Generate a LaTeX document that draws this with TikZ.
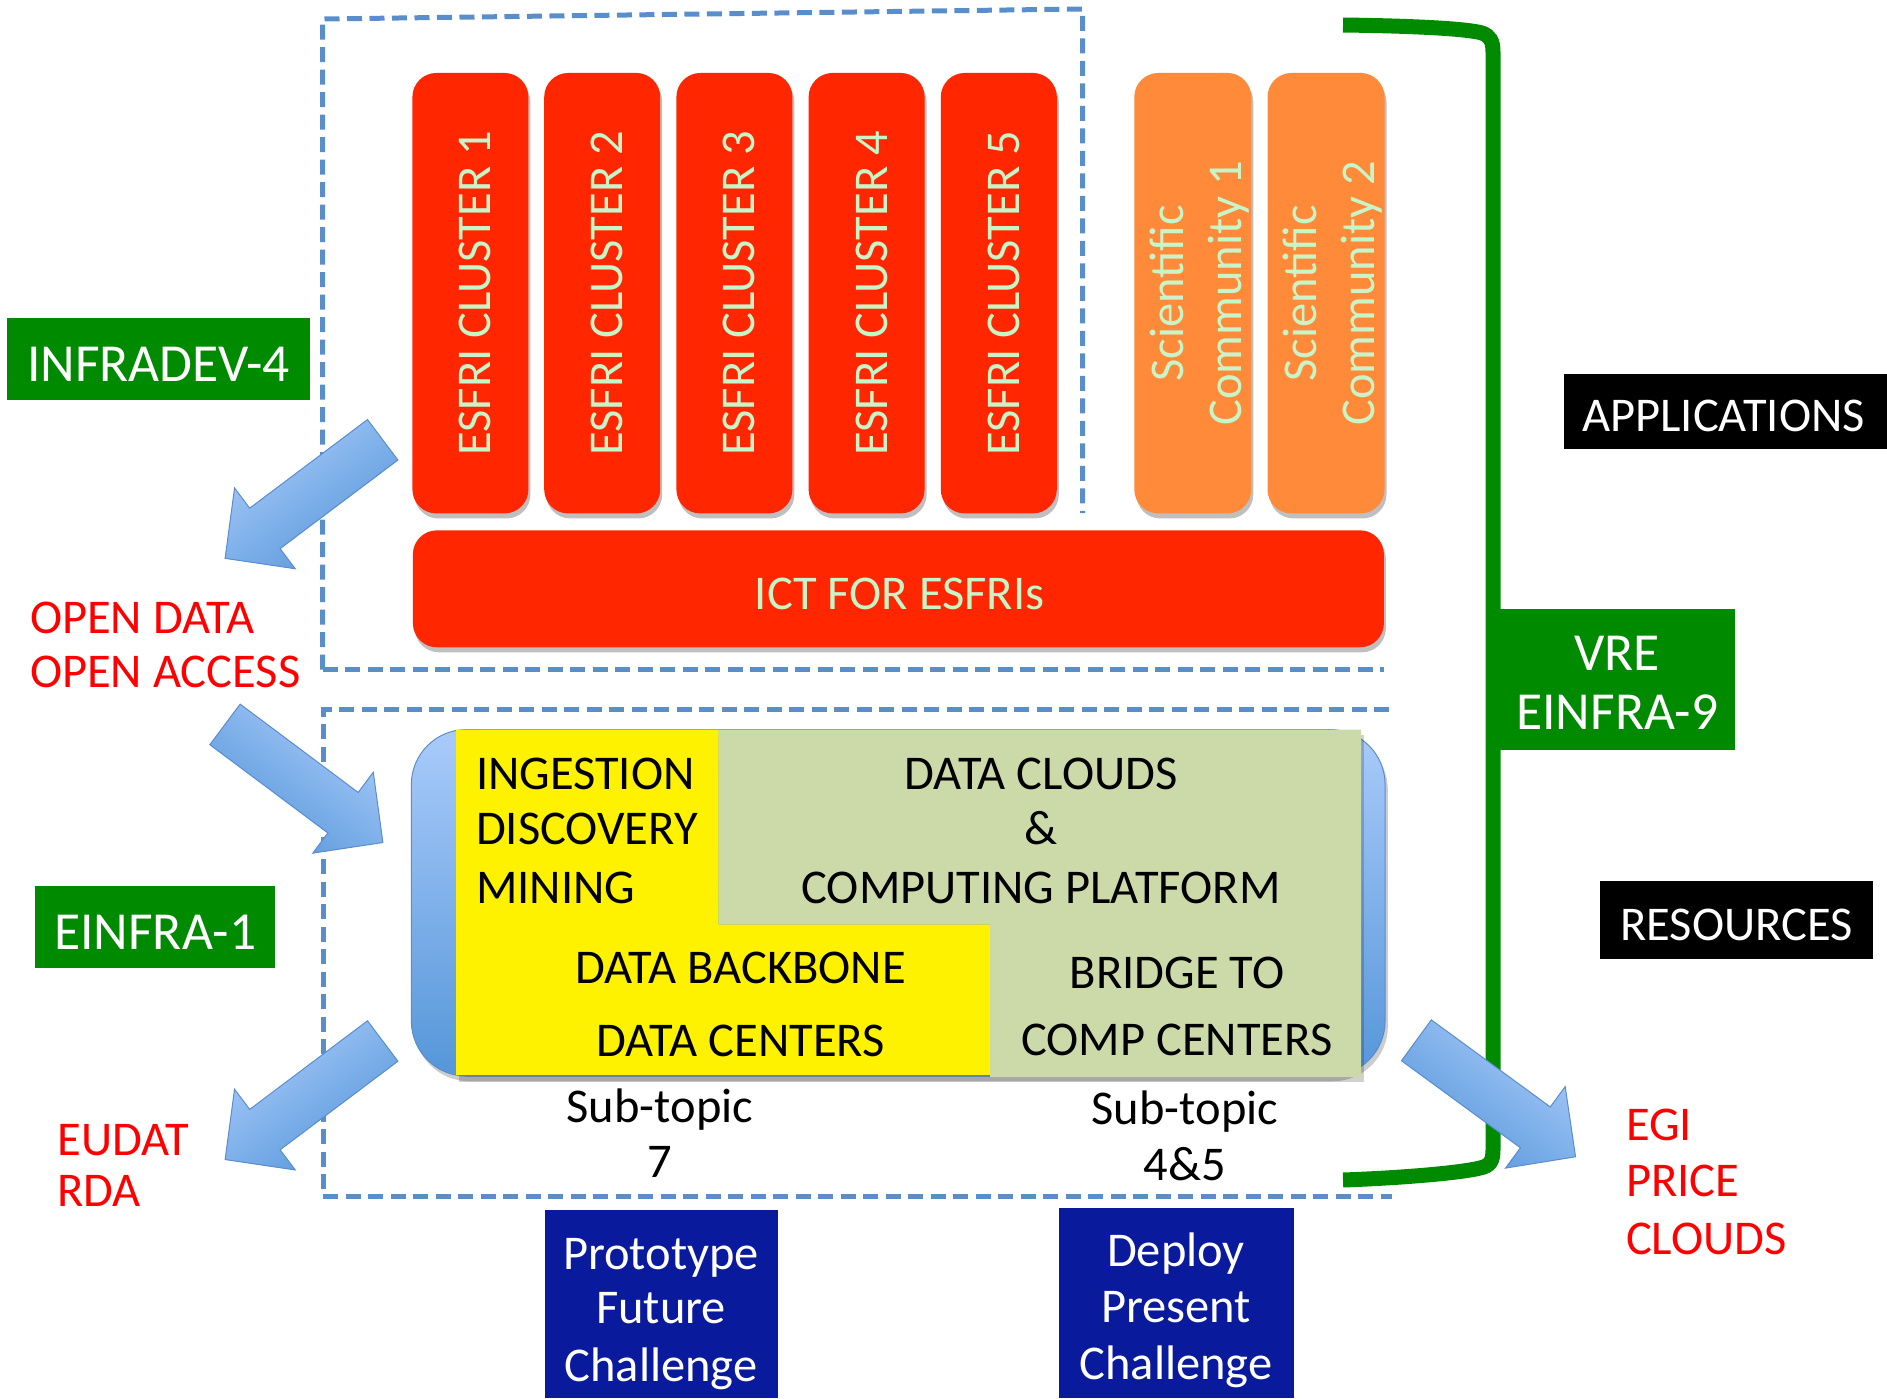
\documentclass[tikz,border=0pt]{standalone}
\usepackage{fontspec}
\setmainfont{Carlito}
\usetikzlibrary{shadows}
\definecolor{esred}{HTML}{FF2600}
\definecolor{mint}{HTML}{C8F5C8}
\definecolor{esorange}{HTML}{FF8A3A}
\definecolor{grn}{HTML}{008A00}
\definecolor{olivebg}{HTML}{CCDAAA}
\definecolor{navy}{HTML}{0A1A9C}
\definecolor{dashblue}{HTML}{5A8ECB}
\definecolor{bluetop}{HTML}{A9CBFA}
\definecolor{bluebot}{HTML}{5596D9}
\definecolor{arrowedge}{HTML}{5A8CCF}
\definecolor{txtred}{HTML}{FF0000}
\newcommand\blockarr[4]{%
  \begin{scope}[shift={(#1,#2)}, rotate=#3]
    \path[barrow, shading angle=#4] (0,-25.3) -- (147.4,-25.3) -- (147.4,-50.5) -- (197.2,0)
      -- (147.4,50.5) -- (147.4,25.3) -- (0,25.3) -- cycle;
  \end{scope}}
\begin{document}
\begin{tikzpicture}[x=1pt,y=-1pt,
  every node/.style={inner sep=0pt, outer sep=0pt},
  big/.style={font=\fontsize{48.5}{58}\selectfont},
  lbl/.style={font=\fontsize{53.5}{59}\selectfont, text=white},
  shad/.style={drop shadow={shadow xshift=2pt, shadow yshift=-5pt, opacity=0.25, fill=black}},
  cluster/.style={fill=esred, rounded corners=24pt, minimum width=116pt, minimum height=440.5pt, shad},
  comm/.style={fill=esorange, rounded corners=24pt, minimum width=117pt, minimum height=440.5pt, shad},
  vtext/.style={big, rotate=90, text=mint, align=center},
  ictbox/.style={fill=esred, rounded corners=24pt, minimum width=971pt, minimum height=117pt, shad},
  gbox/.style={fill=grn},
  gtext/.style={lbl, yshift=-5pt, align=center},
  kbox/.style={fill=black},
  ktext/.style={big, text=white, yshift=-5pt},
  nbox/.style={fill=navy},
  navytxt/.style={big, text=white, anchor=base},
  blacktxt/.style={big, text=black, anchor=base},
  redtxt/.style={big, text=txtred, anchor=base west},
  dashln/.style={draw=dashblue, line width=5pt, dash pattern=on 15pt off 7.5pt},
  barrow/.style={top color=bluetop, bottom color=bluebot, draw=arrowedge, line width=1pt},
  bracket/.style={draw=grn, line width=15pt},
]
\useasboundingbox (0,0) rectangle (1887,1398);

% dashed frames
\draw[dashln] (322.6,669.6) -- (322.6,19) -- (1082.5,9) -- (1082.5,513);
\draw[dashln] (322.6,669.6) -- (1384,669.6);
\draw[dashln] (1389,709.8) -- (323.3,709.8) -- (323.3,1196.6) -- (1392,1196.6);

% ESFRI clusters
\foreach \i/\x/\tx in {1/470.4/475.4,2/602.2/607.2,3/734.4/739.4,4/866.6/871.6,5/998.8/1003.8}{
  \node[cluster] (c\i) at (\x,293.2) {};
  \node[vtext] (ct\i) at (\tx,293.2) {ESFRI CLUSTER \i};
}
\node[comm] (s1) at (1192.8,293.2) {};
\node[vtext] (st1) at (1199.8,293.2) {Scientific\\Community 1};
\node[comm] (s2) at (1326,293.2) {};
\node[vtext] (st2) at (1333,293.2) {Scientific\\Community 2};
\node[ictbox] (ict) at (898.4,588.8) {};
\node[big, text=mint, anchor=base] (ictt) at (899.7,609) {ICT FOR ESFRIs};

% platform
\node[fill=black, opacity=0.2, rounded corners=55pt, minimum width=973.7pt, minimum height=346.5pt] (platshadow) at (901,908) {};
\node[top color=bluetop, bottom color=bluebot, draw=arrowedge, line width=1pt, rounded corners=55pt,
      minimum width=973.7pt, minimum height=346.5pt] (plat) at (898.2,902.8) {};
\fill[black, opacity=0.18] (459,735) -- (1364,735) -- (1364,1082) -- (459,1082) -- cycle;
\fill[yellow] (456,729.5) -- (718.7,729.5) -- (718.7,924.3) -- (990,924.3) -- (990,1075) -- (456,1075) -- cycle;
\fill[olivebg] (718.7,729.5) -- (1361,729.5) -- (1361,1077) -- (990,1077) -- (990,924.3) -- (718.7,924.3) -- cycle;

\node[blacktxt, anchor=base west] (ing) at (476,789) {INGESTION};
\node[blacktxt, anchor=base west] (disc) at (476,844) {DISCOVERY};
\node[blacktxt, anchor=base west] (mine) at (476,903.4) {MINING};
\node[blacktxt] (dcl) at (1041,789) {DATA CLOUDS};
\node[blacktxt] (amp) at (1041,844) {\&};
\node[blacktxt] (cpf) at (1041,903.4) {COMPUTING PLATFORM};
\node[blacktxt] (dbb) at (740.5,983) {DATA BACKBONE};
\node[blacktxt] (dce) at (740.5,1056.4) {DATA CENTERS};
\node[blacktxt] (bri) at (1177,988) {BRIDGE TO};
\node[blacktxt] (cce) at (1177,1055.5) {COMP CENTERS};
\node[blacktxt] (st7) at (660,1122) {Sub-topic};
\node[blacktxt] (n7) at (660,1177) {7};
\node[blacktxt] (st45) at (1185,1124) {Sub-topic};
\node[blacktxt] (n45) at (1185,1180) {4\&5};

% bottom boxes
\node[nbox, minimum width=233pt, minimum height=188pt] (protobox) at (661.5,1304) {};
\node[nbox, minimum width=234.2pt, minimum height=190pt] (deploybox) at (1176.5,1303) {};
\node[navytxt] (pr) at (661,1269) {Prototype};
\node[navytxt] (fu) at (661,1323) {Future};
\node[navytxt] (ch1) at (661,1381) {Challenge};
\node[navytxt] (de) at (1176,1266) {Deploy};
\node[navytxt] (pre) at (1176,1322) {Present};
\node[navytxt] (ch2) at (1176,1379) {Challenge};

% labels
\node[gbox, minimum width=303pt, minimum height=82pt, label={[gtext]center:INFRADEV-4}] (infradev) at (158.5,359.3) {};
\node[gbox, minimum width=240.5pt, minimum height=82.5pt, label={[gtext]center:EINFRA-1}] (einfra1) at (155.2,927.2) {};
\node[gbox, minimum width=234.6pt, minimum height=140.6pt, label={[gtext, yshift=2pt]center:VRE\\EINFRA-9}] (vre) at (1617.3,679.7) {};
\node[kbox, minimum width=323pt, minimum height=75pt, label={[ktext, xshift=-2pt]center:APPLICATIONS}] (apps) at (1725.5,411.2) {};
\node[kbox, minimum width=273pt, minimum height=78pt, label={[ktext]center:RESOURCES}] (res) at (1736.5,920.4) {};

\node[redtxt] (od) at (30,633) {OPEN DATA};
\node[redtxt] (oa) at (30,687.5) {OPEN ACCESS};
\node[redtxt] (eudat) at (57.5,1155) {EUDAT};
\node[redtxt] (rda) at (57.5,1206.5) {RDA};
\node[redtxt] (egi) at (1626,1140) {EGI};
\node[redtxt] (price) at (1626,1196.5) {PRICE};
\node[redtxt] (clouds) at (1626,1254.6) {CLOUDS};

% green bracket
\draw[bracket] (1343,25) .. controls (1420,26) and (1468,29) .. (1482,33)
  .. controls (1490,36) and (1493,41) .. (1493,52) -- (1493,1150)
  .. controls (1493,1161) and (1490,1166) .. (1480,1168)
  .. controls (1460,1173) and (1400,1178) .. (1343,1180);

% block arrows
\blockarr{382.7}{439.8}{-143.05}{37}
\blockarr{225.0}{724.4}{-36.8}{-37}
\blockarr{382.7}{1041.0}{-143.05}{37}
\blockarr{1416.4}{1040.3}{-36.2}{-37}
\end{tikzpicture}
\end{document}
